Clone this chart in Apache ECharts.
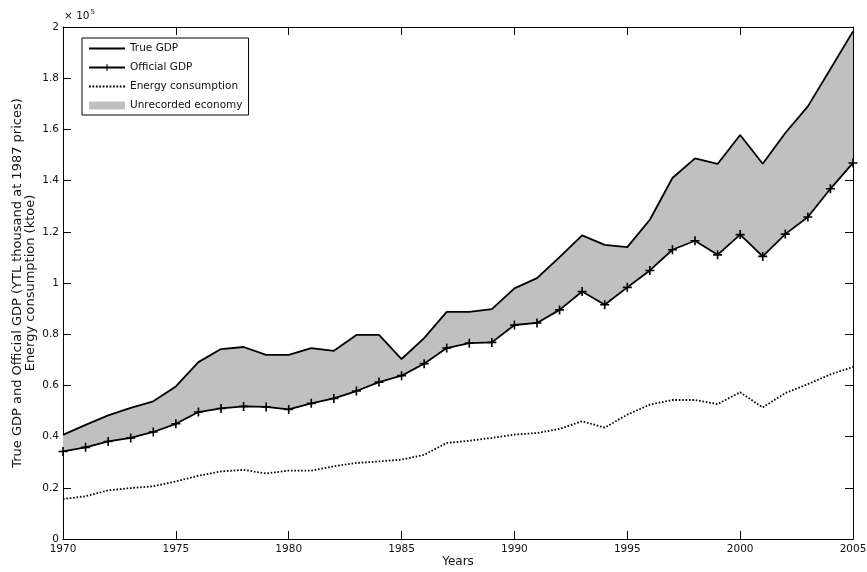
<!DOCTYPE html>
<html>
<head>
<meta charset="utf-8">
<script src="https://cdn.jsdelivr.net/npm/echarts@6/dist/echarts.min.js"></script>
<style>
html,body{margin:0;padding:0;background:#fff;}
#chart{width:867px;height:572px;}
</style>
</head>
<body>
<div id="chart"></div>
<script>
var years = [1970,1971,1972,1973,1974,1975,1976,1977,1978,1979,1980,1981,1982,1983,1984,1985,1986,1987,1988,1989,1990,1991,1992,1993,1994,1995,1996,1997,1998,1999,2000,2001,2002,2003,2004,2005];
var trueGdp = [40700,44600,48300,51200,53800,59600,69100,74200,75000,71900,71900,74600,73500,79700,79700,70300,78500,88700,88700,89800,97900,101900,110100,118600,114900,114000,124700,141000,148700,146500,157800,146600,158600,169000,183600,198300];
var officialGdp = [34200,35800,38100,39500,41800,45000,49600,51000,51800,51600,50600,53000,54900,57800,61300,63800,68500,74600,76500,76800,83600,84400,89500,96700,91500,98300,104900,113000,116500,111000,118900,110400,119100,125800,136800,146900];
var energy = [15600,16700,19000,19900,20600,22500,24700,26400,27000,25600,26700,26700,28400,29700,30300,31000,32900,37500,38400,39500,40800,41400,43000,46000,43500,48600,52500,54300,54300,52700,57300,51400,57000,60500,64300,67200];
var yTickLabels = ['0','0.2','0.4','0.6','0.8','1','1.2','1.4','1.6','1.8','2'];

var yearCats = years.map(String);
var gap = trueGdp.map(function(v,i){ return v - officialGdp[i]; });

var FONT = '"DejaVu Sans", "Liberation Sans", Arial, sans-serif';
var plusPath = 'path://M4.1,0H5.9V4.1H10V5.9H5.9V10H4.1V5.9H0V4.1H4.1Z';
var solidIcon = 'path://M0,0H36V1.8H0Z';
var dotIcon = 'path://';
for (var k = 0; k < 11; k++) { var x0 = k*3.4; dotIcon += 'M'+x0+',0H'+(x0+1.8)+'V1.8H'+x0+'Z'; }

var chart = echarts.init(document.getElementById('chart'), null, {renderer:'canvas'});
function axisBase(){
  return {
    axisLine:{show:true, onZero:false, lineStyle:{color:'#000', width:1}},
    splitLine:{show:false}
  };
}
var xBottom = axisBase();
Object.assign(xBottom, {
  type:'category', data:yearCats, boundaryGap:false, position:'bottom',
  axisTick:{show:true, inside:true, length:8, interval:4, lineStyle:{color:'#000', width:1}},
  axisLabel:{show:true, interval:4, margin:5, fontFamily:FONT, fontSize:10.5, color:'#111'},
  name:'Years', nameLocation:'middle', nameGap:17, nameMoveOverlap:false,
  nameTextStyle:{fontFamily:FONT, fontSize:12, color:'#111'}
});
var xTop = axisBase();
Object.assign(xTop, {
  type:'category', data:yearCats, boundaryGap:false, position:'top',
  axisTick:{show:true, inside:true, length:8, interval:4, lineStyle:{color:'#000', width:1}},
  axisLabel:{show:false}
});
var yLeft = axisBase();
Object.assign(yLeft, {
  type:'value', min:0, max:200000, interval:20000, position:'left',
  axisTick:{show:true, inside:true, length:8, lineStyle:{color:'#000', width:1}},
  axisLabel:{show:true, margin:4, fontFamily:FONT, fontSize:10.5, color:'#111',
    formatter:function(v){ return yTickLabels[Math.round(v/20000)]; }},
  name:'True GDP and Official GDP (YTL thousand at 1987 prices)\nEnergy consumption (ktoe)',
  nameLocation:'middle', nameRotate:90, nameGap:26, nameMoveOverlap:false,
  nameTextStyle:{fontFamily:FONT, fontSize:13, color:'#111', lineHeight:13}
});
var yRight = axisBase();
Object.assign(yRight, {
  type:'value', min:0, max:200000, interval:20000, position:'right',
  axisTick:{show:true, inside:true, length:8, lineStyle:{color:'#000', width:1}},
  axisLabel:{show:false}
});

chart.setOption({
  animation:false,
  backgroundColor:'#fff',
  textStyle:{fontFamily:FONT},
  grid:{left:63, right:14, top:27, bottom:33, containLabel:false, outerBoundsMode:'none'},
  legend:{
    orient:'vertical', left:82, top:38,
    padding:[5,6,4,6],
    borderColor:'#000', borderWidth:1, backgroundColor:'#fff',
    itemWidth:36, itemHeight:8, itemGap:8,
    textStyle:{fontFamily:FONT, fontSize:10.5, color:'#111'},
    data:[
      {name:'True GDP', icon:solidIcon},
      {name:'Official GDP'},
      {name:'Energy consumption', icon:dotIcon},
      {name:'Unrecorded economy', icon:'rect'}
    ]
  },
  xAxis:[xBottom, xTop],
  yAxis:[yLeft, yRight],
  graphic:[{
    type:'text', left:64, top:9,
    style:{
      text:'{a|× 10}{b|5}',
      rich:{
        a:{fontFamily:FONT, fontSize:10.5, fill:'#111', verticalAlign:'bottom'},
        b:{fontFamily:FONT, fontSize:7, fill:'#111', verticalAlign:'top', padding:[0,0,6,1]}
      }
    }
  }],
  series:[
    {
      name:'base', type:'line', stack:'band', data:officialGdp,
      symbol:'none', lineStyle:{width:0, opacity:0}, silent:true, z:1
    },
    {
      name:'Unrecorded economy', type:'line', stack:'band', data:gap,
      symbol:'none', lineStyle:{width:0, opacity:0},
      itemStyle:{color:'#c0c0c0'},
      areaStyle:{color:'#c0c0c0', opacity:1}, z:1
    },
    {
      name:'True GDP', type:'line', data:trueGdp, symbol:'none',
      lineStyle:{color:'#000', width:1.8}, itemStyle:{color:'#000'}, z:3
    },
    {
      name:'Official GDP', type:'line', data:officialGdp,
      symbol:plusPath, symbolSize:9, showSymbol:true,
      lineStyle:{color:'#000', width:1.8}, itemStyle:{color:'#000'}, z:3
    },
    {
      name:'Energy consumption', type:'line', data:energy, symbol:'none',
      lineStyle:{color:'#000', width:1.8, type:[1.6,1.8]}, itemStyle:{color:'#000'}, z:3
    }
  ]
});
</script>
</body>
</html>
